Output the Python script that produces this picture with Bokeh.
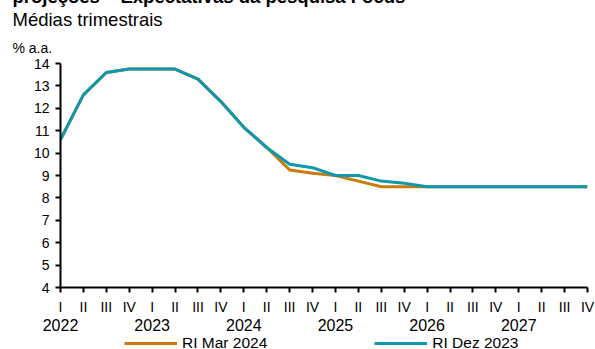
from bokeh.plotting import figure
from bokeh.layouts import column
from bokeh.models import (Range1d, FixedTicker, LinearAxis, Title, Legend, LegendItem)
from bokeh.embed import file_html
from bokeh.resources import INLINE

# ---- data ----
quarters = ["I", "II", "III", "IV"] * 6
years = ["2022", "2023", "2024", "2025", "2026", "2027"]
ri_mar_2024 = [10.6, 12.6, 13.6, 13.75, 13.75, 13.75, 13.3, 12.3, 11.15, 10.25,
               9.25, 9.1, 9.0, 8.75, 8.5, 8.5, 8.5, 8.5, 8.5, 8.5, 8.5, 8.5, 8.5, 8.5]
ri_dez_2023 = [10.6, 12.6, 13.6, 13.75, 13.75, 13.75, 13.3, 12.3, 11.15, 10.25,
               9.5, 9.35, 9.0, 9.0, 8.75, 8.65, 8.5, 8.5, 8.5, 8.5, 8.5, 8.5, 8.5, 8.5]
y_ticks = [4, 5, 6, 7, 8, 9, 10, 11, 12, 13, 14]
title_text = "projeções – Expectativas da pesquisa Focus"
subtitle_text = "Médias trimestrais"
unit_text = "% a.a."
series_names = ["RI Mar 2024", "RI Dez 2023"]
colors = ["#C97B0C", "#0E97AE"]

x = list(range(len(quarters)))
FONT = "Liberation Sans"
SHIFT = 18  # top of the page lies above the window (title line is cut in the reference)

p = figure(width=595, height=352, output_backend="svg", toolbar_location=None,
           title=None, x_range=Range1d(0, len(quarters) - 1), y_range=Range1d(4, 14),
           min_border_left=60, min_border_right=8, min_border_top=81, min_border_bottom=47)
p.outline_line_color = None
p.xgrid.visible = False
p.ygrid.visible = False
p.background_fill_color = "white"
p.border_fill_color = "white"

r1 = p.line(x, ri_mar_2024, line_color=colors[0], line_width=3)
r2 = p.line(x, ri_dez_2023, line_color=colors[1], line_width=3)

# y axis
ya = p.yaxis[0]
ya.ticker = FixedTicker(ticks=y_ticks)
ya.axis_line_width = 2
ya.axis_line_color = "black"
ya.major_tick_line_width = 2
ya.major_tick_out = 5
ya.major_tick_in = 0
ya.minor_tick_line_color = None
ya.major_label_text_font = FONT
ya.major_label_text_font_size = "14px"
ya.major_label_text_color = "black"
ya.major_label_standoff = 6

# x axis (quarters)
xa = p.xaxis[0]
xa.ticker = FixedTicker(ticks=x)
xa.major_label_overrides = {i: q for i, q in enumerate(quarters)}
xa.axis_line_width = 2
xa.axis_line_color = "black"
xa.major_tick_line_width = 2
xa.major_tick_out = 5
xa.major_tick_in = 0
xa.minor_tick_line_color = None
xa.major_label_text_font = FONT
xa.major_label_text_font_size = "14px"
xa.major_label_text_color = "black"
xa.major_label_standoff = 6

# second axis (years)
year_ticks = [i for i in x if i % 4 == 0]
xa2 = LinearAxis(ticker=FixedTicker(ticks=year_ticks),
                 major_label_overrides={t: years[k] for k, t in enumerate(year_ticks)})
xa2.axis_line_color = None
xa2.major_tick_line_color = None
xa2.minor_tick_line_color = None
xa2.major_tick_out = 0
xa2.major_tick_in = 0
xa2.minor_tick_out = 0
xa2.major_label_text_font = FONT
xa2.major_label_text_font_size = "16px"
xa2.major_label_text_color = "black"
xa2.major_label_standoff = 1
p.add_layout(xa2, "below")

# titles above (first added is nearest to the frame)
t_unit = Title(text=unit_text, align="left", offset=-48, text_font=FONT,
               text_font_size="14px", text_font_style="normal", text_color="black", standoff=16)
t_sub = Title(text=subtitle_text, align="left", offset=-48, text_font=FONT,
              text_font_size="18.5px", text_font_style="normal", text_color="black", standoff=0)
t_main = Title(text=title_text, align="left", offset=-48, text_font=FONT,
               text_font_size="18.5px", text_font_style="bold", text_color="black", standoff=0)
for t in (t_unit, t_sub, t_main):
    p.add_layout(t, "above")

# legend strip (its own small figure right under the chart)
pl = figure(width=595, height=18, output_backend="svg", toolbar_location=None, title=None,
            x_axis_type=None, y_axis_type=None,
            x_range=Range1d(0, len(quarters) - 1), y_range=Range1d(100, 101),
            min_border_left=0, min_border_right=0, min_border_top=0, min_border_bottom=0)
pl.outline_line_color = None
pl.xgrid.visible = False
pl.ygrid.visible = False
pl.background_fill_color = "white"
pl.border_fill_color = "white"
l1 = pl.line(x, ri_mar_2024, line_color=colors[0], line_width=3)
l2 = pl.line(x, ri_dez_2023, line_color=colors[1], line_width=3)

legend = Legend(items=[LegendItem(label=series_names[0], renderers=[l1]),
                       LegendItem(label=series_names[1], renderers=[l2])],
                orientation="horizontal", location=(64, 0))
legend.label_text_font = FONT
legend.label_text_font_size = "15.5px"
legend.label_text_color = "black"
legend.glyph_width = 53
legend.glyph_height = 14
legend.label_height = 14
legend.label_standoff = 5
legend.spacing = 107
legend.padding = 0
legend.margin = 0
legend.border_line_color = None
legend.background_fill_alpha = 0
pl.add_layout(legend, "center")

layout = column(p, pl, spacing=0)
layout.styles = {"margin-top": f"-{SHIFT}px"}

open("out.html", "w").write(file_html(layout, INLINE))
